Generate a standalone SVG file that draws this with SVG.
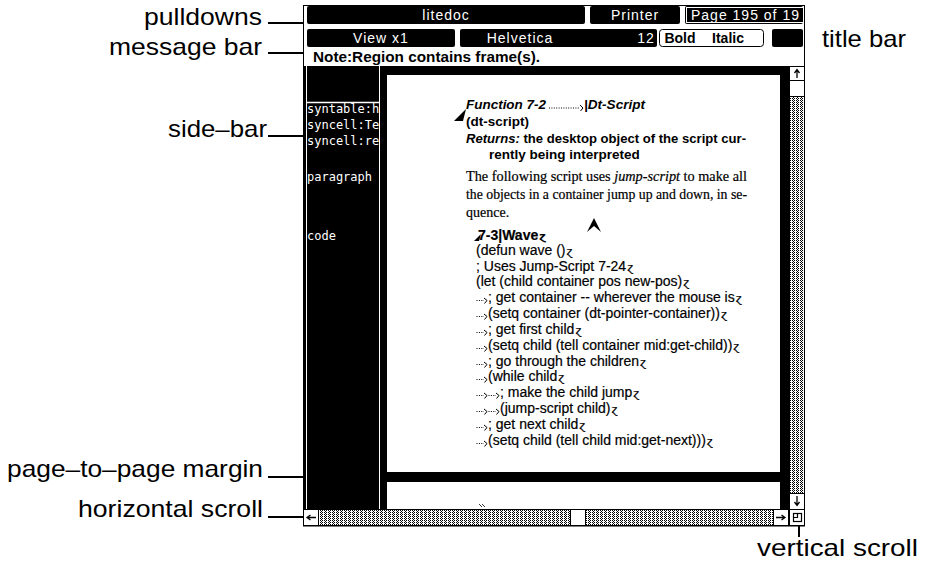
<svg xmlns="http://www.w3.org/2000/svg" width="925" height="563" viewBox="0 0 925 563">
  <defs>
    <style>
      .bar { fill: #000; }
      .bt { font-family: 'Liberation Sans', Arial, sans-serif; font-size: 14px; fill: #fff; letter-spacing: 1px; }
      .bk { font-family: 'Liberation Sans', Arial, sans-serif; font-size: 14px; font-weight: bold; fill: #000; }
      .lbl { font-family: 'Liberation Sans', Arial, sans-serif; font-size: 24px; fill: #000; }
      .lead { stroke: #000; stroke-width: 2; fill: none; }
      .side { font-family: 'DejaVu Sans Mono', monospace; font-size: 12px; fill: #fff; }
      .hd { font-family: 'Liberation Sans', Arial, sans-serif; font-size: 13.5px; font-weight: bold; fill: #000; }
      .ser { font-family: 'Liberation Serif', 'Times New Roman', serif; font-size: 14px; fill: #000; stroke: #000; stroke-width: 0.2; }
      .code { font-family: 'Liberation Sans', Arial, sans-serif; font-size: 14px; fill: #000; stroke: #000; stroke-width: 0.2; }
      .ret { font-family: 'DejaVu Sans', sans-serif; font-size: 11px; }
      .box { fill: #fff; stroke: #000; stroke-width: 1; }
      .ink { stroke: #000; stroke-width: 1.3; fill: none; }
    </style>
    <pattern id="stipple" width="4" height="2" patternUnits="userSpaceOnUse">
      <rect width="4" height="2" fill="#fff"/>
      <rect x="0" y="0" width="1" height="1" fill="#000"/>
      <rect x="2" y="0" width="1" height="1" fill="#000"/>
      <rect x="1" y="1" width="1" height="1" fill="#000"/>
    </pattern>
    <!-- tab marker: dotted leader ending in a small hook -->
    <symbol id="tab" overflow="visible">
      <path d="M0.5,-1.5 H8" stroke="#000" stroke-width="1" stroke-dasharray="1 1.4"/>
      <path d="M8,-4 L11,-1.5 L8.5,1.5" stroke="#000" stroke-width="1" fill="none"/>
    </symbol>
    <clipPath id="sideClip"><rect x="307" y="66" width="72" height="443"/></clipPath>
    <clipPath id="pageClip"><rect x="685" y="5" width="118" height="20"/></clipPath>
  </defs>

  <rect width="925" height="563" fill="#fff"/>

  <!-- window -->
  <g id="window">
    <!-- pulldown row -->
    <g id="pulldowns">
      <rect class="bar" x="307" y="6" width="278" height="18" rx="2"/>
      <text class="bt" x="446" y="20" text-anchor="middle">litedoc</text>
      <rect class="bar" x="590" y="6" width="90" height="18" rx="2"/>
      <text class="bt" x="635" y="20" text-anchor="middle">Printer</text>
      <rect class="bar" x="685" y="6" width="118" height="18" rx="2"/>
      <rect x="686.5" y="7.5" width="118" height="15" fill="none" stroke="#fff" stroke-width="1"/>
      <text class="bt" x="691" y="20" clip-path="url(#pageClip)">Page 195 of 19</text>
    </g>
    <!-- title row -->
    <g id="titlebar">
      <rect class="bar" x="307" y="29" width="148" height="18" rx="2"/>
      <text class="bt" x="381" y="43" text-anchor="middle">View x1</text>
      <rect class="bar" x="460" y="29" width="197" height="18" rx="2"/>
      <text class="bt" x="520" y="43" text-anchor="middle">Helvetica</text>
      <text class="bt" x="646" y="43" text-anchor="middle">12</text>
      <rect class="box" x="659.5" y="29.5" width="104" height="17" rx="3"/>
      <text class="bk" x="680" y="43" text-anchor="middle">Bold</text>
      <text class="bk" x="728" y="43" text-anchor="middle">Italic</text>
      <rect class="bar" x="772" y="29" width="31" height="18" rx="2"/>
    </g>
    <!-- message row -->
    <g id="messagebar">
      <text x="313" y="62" font-family="'Liberation Sans', Arial, sans-serif" font-size="15" font-weight="bold" textLength="227" lengthAdjust="spacingAndGlyphs">Note:Region contains frame(s).</text>
    </g>

    <!-- frame and black background -->
    <rect x="303.5" y="5.5" width="501" height="520.5" fill="none" stroke="#000" stroke-width="1"/>
    <rect class="bar" x="303" y="66" width="487" height="443"/>

    <!-- side bar -->
    <g id="sidebar">
      <line x1="306.5" y1="66" x2="306.5" y2="509" stroke="#fff" stroke-width="1"/>
      <line x1="379.5" y1="66" x2="379.5" y2="509" stroke="#fff" stroke-width="1"/>
      <line x1="307" y1="102.5" x2="379" y2="102.5" stroke="#fff" stroke-width="1.5"/>
      <g clip-path="url(#sideClip)">
        <text class="side" x="307" y="113">syntable:h</text>
        <text class="side" x="307" y="129">syncell:Tel</text>
        <text class="side" x="307" y="145">syncell:ret</text>
        <text class="side" x="307" y="181">paragraph</text>
        <text class="side" x="307" y="240">code</text>
      </g>
    </g>

    <!-- page -->
    <g id="page">
      <rect x="387" y="75" width="393" height="397" fill="#fff"/>
      <polygon points="454,121 466,109 463,121" fill="#000"/>
      <text class="hd" x="466" y="109" font-style="italic" textLength="80" lengthAdjust="spacingAndGlyphs">Function 7-2</text>
      <path d="M549,108 H580" stroke="#000" stroke-width="1" stroke-dasharray="1 1.4"/>
      <path d="M580,105 L583,108 L580.5,111" stroke="#000" stroke-width="1" fill="none"/>
      <text class="hd" x="584" y="109" font-style="italic" textLength="61" lengthAdjust="spacingAndGlyphs">|Dt-Script</text>
      <text class="hd" x="466" y="126">(dt-script)</text>
      <text class="hd" x="466" y="143" textLength="280" lengthAdjust="spacingAndGlyphs"><tspan font-style="italic">Returns:</tspan> the desktop object of the script cur-</text>
      <text class="hd" x="489" y="159">rently being interpreted</text>
      <text class="ser" x="466" y="181" textLength="281" lengthAdjust="spacingAndGlyphs">The following script uses <tspan font-style="italic">jump-script</tspan> to make all</text>
      <text class="ser" x="466" y="199" textLength="281" lengthAdjust="spacingAndGlyphs">the objects in a container jump up and down, in se-</text>
      <text class="ser" x="466" y="217">quence.</text>
      <!-- insertion caret -->
      <path d="M587,232 L594,218 L601,232 L594,226 Z" fill="#000"/>

      <!-- code block -->
      <polygon points="474,241 481,234 479,241" fill="#000"/>
      <text class="code" x="478" y="240" font-weight="bold">7-3|Wave<tspan class="ret" dx="1">ɀ</tspan></text>
      <text class="code" x="476" y="255">(defun wave ()<tspan class="ret" dx="1">ɀ</tspan></text>
      <text class="code" x="476" y="271">; Uses Jump-Script 7-24<tspan class="ret" dx="1">ɀ</tspan></text>
      <text class="code" x="476" y="286">(let (child container pos new-pos)<tspan class="ret" dx="1">ɀ</tspan></text>
      <use href="#tab" x="476" y="302"/>
      <text class="code" x="488" y="302">; get container -- wherever the mouse is<tspan class="ret" dx="1">ɀ</tspan></text>
      <use href="#tab" x="476" y="318"/>
      <text class="code" x="488" y="318">(setq container (dt-pointer-container))<tspan class="ret" dx="1">ɀ</tspan></text>
      <use href="#tab" x="476" y="334"/>
      <text class="code" x="488" y="334">; get first child<tspan class="ret" dx="1">ɀ</tspan></text>
      <use href="#tab" x="476" y="350"/>
      <text class="code" x="488" y="350">(setq child (tell container mid:get-child))<tspan class="ret" dx="1">ɀ</tspan></text>
      <use href="#tab" x="476" y="366"/>
      <text class="code" x="488" y="366">; go through the children<tspan class="ret" dx="1">ɀ</tspan></text>
      <use href="#tab" x="476" y="381"/>
      <text class="code" x="488" y="381">(while child<tspan class="ret" dx="1">ɀ</tspan></text>
      <use href="#tab" x="476" y="397"/>
      <use href="#tab" x="488" y="397"/>
      <text class="code" x="500" y="397">; make the child jump<tspan class="ret" dx="1">ɀ</tspan></text>
      <use href="#tab" x="476" y="413"/>
      <use href="#tab" x="488" y="413"/>
      <text class="code" x="500" y="413">(jump-script child)<tspan class="ret" dx="1">ɀ</tspan></text>
      <use href="#tab" x="476" y="429"/>
      <text class="code" x="488" y="429">; get next child<tspan class="ret" dx="1">ɀ</tspan></text>
      <use href="#tab" x="476" y="445"/>
      <text class="code" x="488" y="445">(setq child (tell child mid:get-next)))<tspan class="ret" dx="1">ɀ</tspan></text>
    </g>

    <!-- next page, below the page-to-page margin -->
    <g id="nextpage">
      <rect x="387" y="482" width="393" height="27" fill="#fff"/>
      <path d="M479,504 L482,507 M482,504 L485,507" stroke="#000" stroke-width="0.8" fill="none"/>
    </g>

    <!-- vertical scroll bar -->
    <g id="vscroll">
      <rect x="789.5" y="66.5" width="15" height="459" fill="url(#stipple)" stroke="#000" stroke-width="1"/>
      <rect class="box" x="789.5" y="66.5" width="15" height="14"/>
      <path d="M797,70 V78 M794.5,73 L797,69.5 L799.5,73" class="ink"/>
      <rect class="box" x="789.5" y="80.5" width="15" height="16"/>
      <rect class="box" x="789.5" y="493.5" width="15" height="16"/>
      <path d="M797,496 V505 M794.5,502 L797,505.5 L799.5,502" class="ink"/>
      <rect class="box" x="789.5" y="509.5" width="15" height="16"/>
      <rect x="793.5" y="513.5" width="8" height="8" fill="none" stroke="#000" stroke-width="1.2"/>
      <path d="M797.5,513.5 V517.5 H793.5" stroke="#000" stroke-width="1.2" fill="none"/>
    </g>

    <!-- horizontal scroll bar -->
    <g id="hscroll">
      <rect x="303.5" y="509.5" width="486" height="16" fill="url(#stipple)" stroke="#000" stroke-width="1"/>
      <rect class="box" x="303.5" y="509.5" width="15" height="16"/>
      <path d="M307,517.5 H316 M310.5,515 L307,517.5 L310.5,520" class="ink"/>
      <rect class="box" x="570.5" y="509.5" width="15" height="16"/>
      <rect class="box" x="773.5" y="509.5" width="15" height="16"/>
      <path d="M776,517.5 H785 M781.5,515 L785,517.5 L781.5,520" class="ink"/>
    </g>
  </g>

  <!-- leader lines from labels to the window parts -->
  <g id="connectors">
    <line class="lead" x1="268" y1="23" x2="303" y2="23"/>
    <line class="lead" x1="268" y1="53" x2="303" y2="53"/>
    <line class="lead" x1="268" y1="136" x2="303" y2="136"/>
    <line class="lead" x1="268" y1="477" x2="303" y2="477"/>
    <line class="lead" x1="268" y1="517" x2="303" y2="517"/>
    <line class="lead" x1="799" y1="526" x2="799" y2="537"/>
  </g>

  <!-- callout labels -->
  <g id="label-pulldowns"><text class="lbl" x="144" y="25" textLength="118" lengthAdjust="spacingAndGlyphs">pulldowns</text></g>
  <g id="label-messagebar"><text class="lbl" x="109" y="55" textLength="153" lengthAdjust="spacingAndGlyphs">message bar</text></g>
  <g id="label-sidebar"><text class="lbl" x="168" y="137" textLength="99" lengthAdjust="spacingAndGlyphs">side–bar</text></g>
  <g id="label-margin"><text class="lbl" x="7" y="477" textLength="256" lengthAdjust="spacingAndGlyphs">page–to–page margin</text></g>
  <g id="label-hscroll"><text class="lbl" x="78" y="517" textLength="185" lengthAdjust="spacingAndGlyphs">horizontal scroll</text></g>
  <g id="label-titlebar"><text class="lbl" x="822" y="47" textLength="84" lengthAdjust="spacingAndGlyphs">title bar</text></g>
  <g id="label-vscroll"><text class="lbl" x="757" y="556" textLength="161" lengthAdjust="spacingAndGlyphs">vertical scroll</text></g>
</svg>
